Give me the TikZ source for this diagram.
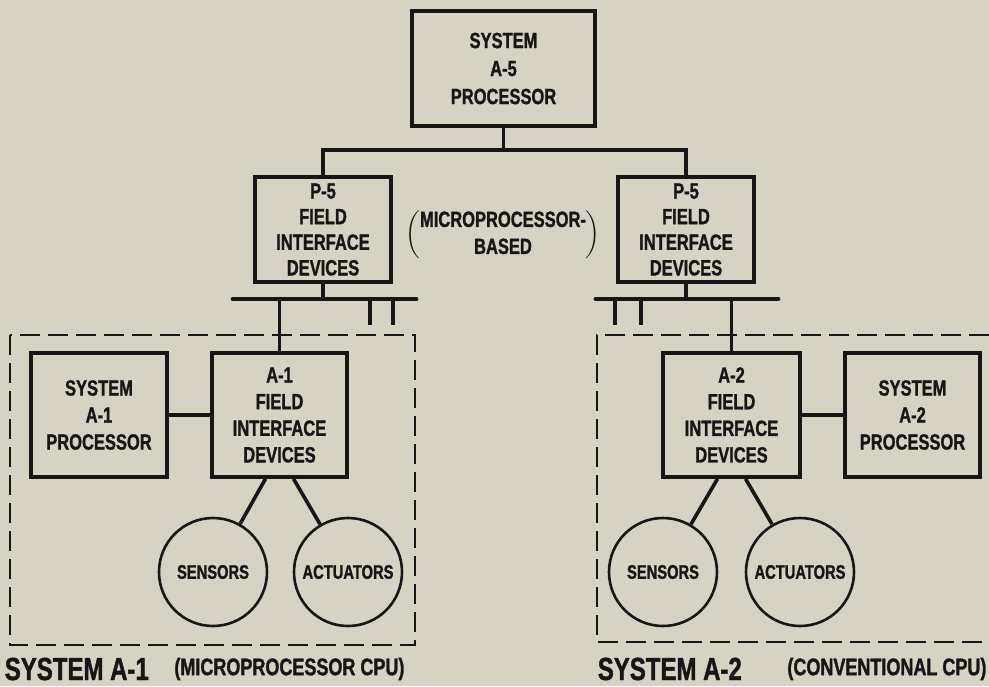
\documentclass[tikz,border=0pt]{standalone}
\usepackage{fontspec}
\setmainfont{Liberation Sans}[FakeStretch=0.75,BoldFeatures={FakeBold=1.2}]
\usetikzlibrary{positioning}
\definecolor{paper}{RGB}{214,210,196}
\definecolor{ink}{RGB}{22,22,22}

\begin{document}
\begin{tikzpicture}[x=0.5pt,y=-0.5pt,color=ink,line width=1.8pt,
  box/.style={draw,line width=1.8pt,align=center,inner sep=0pt,font=\fontsize{11}{13.3}\selectfont\bfseries},
  io/.style={circle,draw,line width=1.3pt,minimum size=54pt,inner sep=0pt,font=\fontsize{9.8}{12}\selectfont\bfseries},
  group/.style={line width=1.2pt,dash pattern=on 10pt off 4pt},
  bus/.style={line width=2.4pt,line cap=round},
  tag/.style={anchor=west,inner sep=0pt,font=\fontsize{16}{18}\selectfont\bfseries},
  note/.style={anchor=west,inner sep=0pt,font=\fontsize{12}{14}\selectfont\bfseries}]
\fill[paper] (0,0) rectangle (989,686);
\useasboundingbox (0,0) rectangle (989,686);

% top level
\node[box,minimum width=91.5pt,minimum height=57.5pt,font=\fontsize{11}{14}\selectfont\bfseries] (a5) at (503.5,68.5) {SYSTEM\\A-5\\PROCESSOR};
\node[box,minimum width=68pt,minimum height=52.5pt,font=\fontsize{11}{12.8}\selectfont\bfseries] (p5l) at (323,229.5) {P-5\\FIELD\\INTERFACE\\DEVICES};
\node[box,minimum width=68pt,minimum height=52.5pt,font=\fontsize{11}{12.8}\selectfont\bfseries] (p5r) at (686,229.5) {P-5\\FIELD\\INTERFACE\\DEVICES};
\node[font=\fontsize{11}{13.5}\selectfont\bfseries] (mpb) at (503,235) {$\bigg($\begin{tabular}{@{}c@{}}MICROPROCESSOR-\\BASED\end{tabular}$\bigg)$};
\coordinate (tb) at (503.5,150);
\draw (a5) -- (tb);
\draw (p5l) |- (tb) -| (p5r);

% buses
\coordinate (busLa) at (233,299);
\coordinate (busLb) at (416,299);
\coordinate (busRa) at (596,299);
\coordinate (busRb) at (778,299);
\draw[bus] (busLa) -- (busLb);
\draw[bus] (busRa) -- (busRb);
\draw (p5l) -- (p5l |- busLa);
\draw (p5r) -- (p5r |- busRa);
\foreach \x in {370,393,615,641}
  \draw (\x,299) -- (\x,325);

% system A-1
\node[box,minimum width=68pt,minimum height=62pt,font=\fontsize{11}{13.5}\selectfont\bfseries] (sa1) at (99,415) {SYSTEM\\A-1\\PROCESSOR};
\node[box,minimum width=67.5pt,minimum height=62pt] (fa1) at (279.5,415) {A-1\\FIELD\\INTERFACE\\DEVICES};
\node[io] (sen1) at (213,572) {SENSORS};
\node[io] (act1) at (348,572) {ACTUATORS};
\draw (fa1) -- (fa1 |- busLa);
\draw (sa1) -- (fa1);
\draw ([xshift=-7pt]fa1.south) -- (sen1);
\draw ([xshift=7pt]fa1.south) -- (act1);
\draw[group] (10,335) rectangle (415,645);
\node[tag] (nm1) at (3,669) {SYSTEM A-1};
\node[note,right=11pt of nm1] (cpu1) {(MICROPROCESSOR CPU)};

% system A-2
\node[box,minimum width=68.5pt,minimum height=62pt] (fa2) at (731.5,415) {A-2\\FIELD\\INTERFACE\\DEVICES};
\node[box,minimum width=67.5pt,minimum height=62pt,font=\fontsize{11}{13.5}\selectfont\bfseries] (sa2) at (912.5,415) {SYSTEM\\A-2\\PROCESSOR};
\node[io] (sen2) at (663,572) {SENSORS};
\node[io] (act2) at (800,572) {ACTUATORS};
\draw (fa2) -- (fa2 |- busRa);
\draw (sa2) -- (fa2);
\draw ([xshift=-7pt]fa2.south) -- (sen2);
\draw ([xshift=7pt]fa2.south) -- (act2);
\draw[group] (989,335) -| (597,642) -- (989,642);
\node[tag] (nm2) at (596,669) {SYSTEM A-2};
\node[note,right=21pt of nm2] (cpu2) {(CONVENTIONAL CPU)};
\end{tikzpicture}
\end{document}
